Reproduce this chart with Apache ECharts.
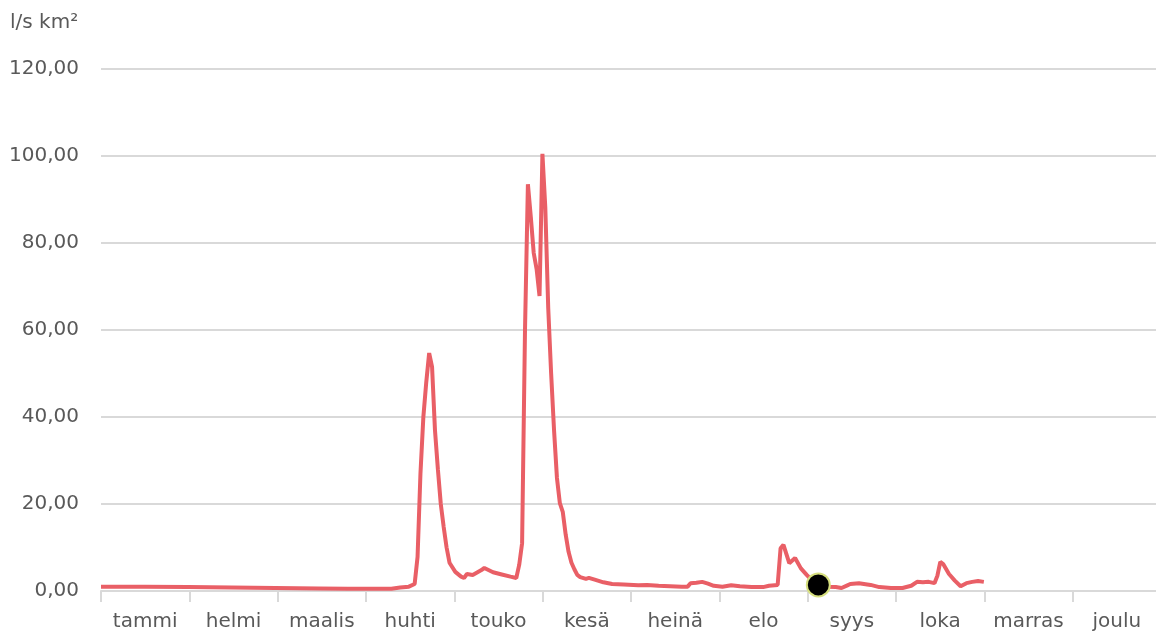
<!DOCTYPE html>
<html>
<head>
<meta charset="utf-8">
<script src="https://cdn.jsdelivr.net/npm/echarts@6/dist/echarts.min.js"></script>
<style>html,body{margin:0;padding:0;background:#fff;}#c{width:1156px;height:637px;}</style>
</head>
<body>
<div id="c"></div>
<script>
const months = ['tammi','helmi','maalis','huhti','touko','kesä','heinä','elo','syys','loka','marras','joulu'];
const yTicks = [0, 20, 40, 60, 80, 100, 120];
const unitLabel = 'l/s km²';
// day of year (0..365) and runoff value l/s km²
const days = [0,15,30,45,60,75,85,100,103,106,108,109,110,111,112,113,114,115,116,117,118,119,120,122,124,125,126,128,131,132,135,138,141,143,144,145,146,147,148,149,150,151,152,153,154,155,156,157,158,159,160,161,162,163,164,165,167,168,170,173,176,180,185,188,192,196,200,202,203,205,207,209,211,214,217,220,224,228,230,233,234,235,237,239,241,243,245,247,250,253,255,257,258,261,265,268,272,276,279,281,283,285,287,288,289,290,292,294,296,298,300,302,304];
const values = [1.0,1.0,0.9,0.8,0.7,0.6,0.5,0.5,0.8,1.0,1.6,7.8,27,40,48,54.7,51.5,37,28,20,14.7,10,6.5,4.4,3.3,3.0,3.9,3.7,4.8,5.3,4.3,3.8,3.3,3.0,6.0,11,60,93.5,86,77.7,74,67.8,100.5,88,65,50,37,26,20.2,18.2,13,9,6.5,5,3.7,3.2,2.8,3.0,2.6,2.0,1.6,1.5,1.3,1.4,1.2,1.1,1.0,1.0,1.8,1.9,2.1,1.7,1.2,1.0,1.3,1.1,0.9,0.9,1.2,1.4,9.8,10.6,6.4,7.6,5.2,3.7,2.3,1.4,1.0,0.9,0.7,1.3,1.6,1.8,1.4,0.9,0.7,0.7,1.2,2.1,2.0,2.1,1.8,3.5,6.7,6.2,3.9,2.4,1.1,1.8,2.1,2.3,2.1];
const markerDay = 247;
const markerValue = 1.4;

const lineData = days.map((d, i) => [d, values[i]]);
const fontFamily = "'DejaVu Sans', sans-serif";
const chart = echarts.init(document.getElementById('c'), null, {renderer: 'canvas'});
chart.setOption({
  animation: false,
  backgroundColor: '#ffffff',
  title: {
    text: unitLabel, left: 5, top: 8,
    textStyle: {fontFamily: fontFamily, fontSize: 20, fontWeight: 'normal', color: '#595959'}
  },
  grid: {left: 101, top: 69, width: 1060, height: 522, containLabel: false, outerBoundsMode: 'none'},
  xAxis: [
    {
      type: 'category', data: months, boundaryGap: true, position: 'bottom',
      axisLine: {show: true, lineStyle: {color: '#d9d9d9', width: 2}},
      axisTick: {show: true, interval: 0, alignWithLabel: false, length: 11, lineStyle: {color: '#d9d9d9', width: 2}},
      axisLabel: {interval: 0, margin: 21, color: '#595959', fontSize: 20, fontFamily: fontFamily},
      splitLine: {show: false}
    },
    {
      type: 'value', min: 0, max: 365, show: false
    }
  ],
  yAxis: {
    type: 'value', min: yTicks[0], max: yTicks[yTicks.length - 1], interval: 20,
    axisLine: {show: false}, axisTick: {show: false},
    axisLabel: {
      margin: 22, color: '#595959', fontSize: 20, fontFamily: fontFamily,
      formatter: v => v.toFixed(2).replace('.', ',')
    },
    splitLine: {show: true, lineStyle: {color: '#d9d9d9', width: 2}}
  },
  series: [
    {
      type: 'line', xAxisIndex: 1, data: lineData, showSymbol: false, smooth: false,
      lineStyle: {color: '#e95f66', width: 4}, z: 2
    },
    {
      type: 'scatter', xAxisIndex: 1, data: [[markerDay, markerValue]],
      symbol: 'circle', symbolSize: 23,
      itemStyle: {color: '#000000', opacity: 1, borderColor: '#d6df7e', borderWidth: 2}, z: 3
    }
  ]
});
</script>
</body>
</html>
